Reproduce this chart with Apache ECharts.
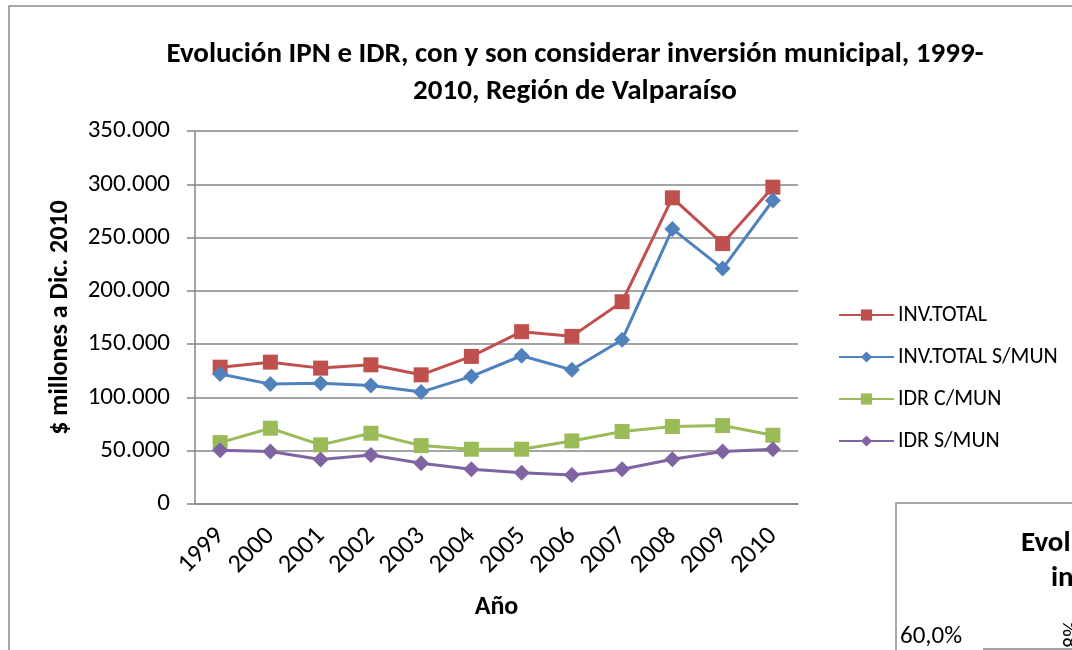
<!DOCTYPE html>
<html>
<head>
<meta charset="utf-8">
<script src="https://cdn.jsdelivr.net/npm/echarts@6/dist/echarts.min.js"></script>
<style>
  html, body { margin: 0; padding: 0; background: #fff; }
  #chart { width: 1072px; height: 650px; }
</style>
</head>
<body>
<div id="chart"></div>
<script>
// data
var years = ['1999','2000','2001','2002','2003','2004','2005','2006','2007','2008','2009','2010'];
var invTotal = [128400,133100,127500,130600,121200,138500,161700,157300,189800,287300,244400,297300];
var invTotalSMun = [121900,112500,113400,111200,105000,119700,139100,125900,154100,258100,220900,284800];
var idrCMun = [57600,71100,55500,66400,54800,51400,51400,59200,68000,72700,73600,64500];
var idrSMun = [50400,49200,41700,46000,38200,32600,29400,27300,32600,42000,49200,51400];
var seriesNames = ['INV.TOTAL','INV.TOTAL S/MUN','IDR C/MUN','IDR S/MUN'];

var FONT = 'Carlito, Lato, sans-serif';
var GRID = '#868686';

function fmt(v) {
    // thousands with dots, like the spreadsheet
    return String(v).replace(/\B(?=(\d{3})+(?!\d))/g, '.');
}

function mkSeries(name, data, color, symbol, size) {
    return {
        name: name,
        type: 'line',
        data: data,
        symbol: symbol,
        symbolSize: size,
        lineStyle: { color: color, width: 3 },
        itemStyle: { color: color },
        animation: false
    };
}

var myChart = echarts.init(document.getElementById('chart'));

var option = {
    backgroundColor: '#fff',
    textStyle: { fontFamily: FONT },
    title: {
        text: 'Evolución IPN e IDR, con y son considerar inversión municipal, 1999-\n2010, Región de Valparaíso',
        left: 570,
        top: 31,
        textAlign: 'center',
        textStyle: { fontFamily: FONT, fontSize: 29, fontWeight: 'bold', color: '#000', lineHeight: 37, align: 'center' }
    },
    legend: {
        orient: 'vertical',
        left: 833,
        top: 299,
        itemWidth: 55,
        itemHeight: 14,
        itemGap: 20,
        data: seriesNames,
        textStyle: { fontFamily: FONT, fontSize: 22, color: '#000', padding: [0, 0, 0, -1] }
    },
    grid: { left: 195, right: 274, top: 131, bottom: 146 },
    xAxis: {
        type: 'category',
        data: years,
        boundaryGap: true,
        name: 'Año',
        nameLocation: 'middle',
        nameGap: 90,
        nameTextStyle: { fontFamily: FONT, fontSize: 26, fontWeight: 'bold', color: '#000' },
        axisLine: { lineStyle: { color: GRID, width: 1.5 } },
        axisTick: { show: false },
        axisLabel: { rotate: 45, fontSize: 26, color: '#000', margin: 28, fontFamily: FONT }
    },
    yAxis: {
        type: 'value',
        min: 0,
        max: 350000,
        interval: 50000,
        name: '$ millones a Dic. 2010',
        nameLocation: 'middle',
        nameRotate: 90,
        nameGap: 122,
        nameTextStyle: { fontFamily: FONT, fontSize: 26, fontWeight: 'bold', color: '#000' },
        axisLine: { show: true, lineStyle: { color: GRID, width: 1.5 } },
        axisTick: { show: true, length: 8, lineStyle: { color: GRID, width: 1.5 } },
        axisLabel: { fontSize: 25, color: '#000', margin: 25, formatter: fmt, fontFamily: FONT },
        splitLine: { lineStyle: { color: GRID, width: 1.5 } }
    },
    series: [
        mkSeries(seriesNames[0], invTotal, '#C0504D', 'rect', 15),
        mkSeries(seriesNames[1], invTotalSMun, '#4F81BD', 'diamond', 16),
        mkSeries(seriesNames[2], idrCMun, '#9BBB59', 'rect', 15),
        mkSeries(seriesNames[3], idrSMun, '#8064A2', 'diamond', 16)
    ],
    graphic: [
        // outer chart frame
        { type: 'rect', shape: { x: 9, y: 6, width: 1200, height: 800 }, style: { fill: 'none', stroke: '#8c8c8c', lineWidth: 1.5 }, silent: true, z: -10 },
        // the next chart peeking in at the bottom right
        { type: 'rect', shape: { x: 896, y: 503, width: 300, height: 300 }, style: { fill: '#fff', stroke: '#8c8c8c', lineWidth: 1.5 }, silent: true, z: 50 },
        { type: 'text', left: 1021, top: 529, style: { text: 'Evolución', font: 'bold 29px ' + FONT, fill: '#000' }, silent: true, z: 51 },
        { type: 'text', left: 1051, top: 564, style: { text: 'inversión', font: 'bold 29px ' + FONT, fill: '#000' }, silent: true, z: 51 },
        { type: 'text', left: 900, top: 624, style: { text: '60,0%', font: '25px ' + FONT, fill: '#000' }, silent: true, z: 51 },
        { type: 'line', shape: { x1: 983, y1: 649, x2: 1072, y2: 649 }, style: { stroke: GRID, lineWidth: 1.5 }, silent: true, z: 51 },
        { type: 'text', x: 1062, y: 648, rotation: Math.PI / 2, style: { text: '8%', font: '22px ' + FONT, fill: '#000' }, silent: true, z: 51 }
    ]
};

myChart.setOption(option);
</script>
</body>
</html>
